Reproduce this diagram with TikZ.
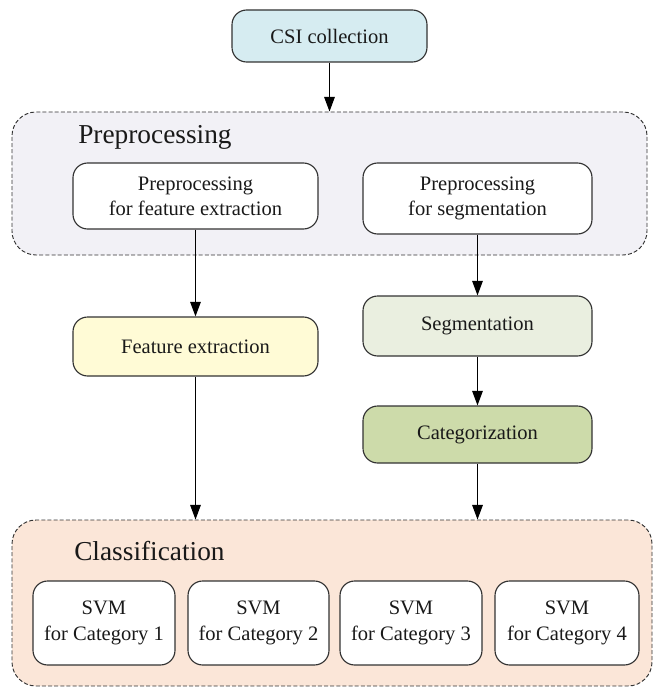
\documentclass[tikz,border=0pt]{standalone}
\usepackage{fontspec}
\setmainfont{Liberation Serif}
\usetikzlibrary{arrows.meta}

\definecolor{csifill}{HTML}{D6ECF1}
\definecolor{prefill}{HTML}{F2F1F6}
\definecolor{featfill}{HTML}{FFFBD6}
\definecolor{segfill}{HTML}{EAEFE0}
\definecolor{catfill}{HTML}{CDDBAA}
\definecolor{clsfill}{HTML}{FBE6D8}
\definecolor{edge}{HTML}{333333}

\tikzset{
  px/.style={x=0.75pt, y=-0.75pt},
  procbox/.style={draw=edge, line width=0.85pt, rounded corners=11pt,
    align=center, inner sep=0pt, text=black!90, font=\fontsize{15.4}{19}\selectfont},
  groupbox/.style={draw=edge, line width=0.7pt, dash pattern=on 3pt off 1.6pt,
    rounded corners=18pt},
  grouptitle/.style={anchor=west, text=black!90, font=\fontsize{20.5}{24}\selectfont, inner sep=0pt},
  flow/.style={draw=black, line width=0.8pt, -{Triangle[length=11pt,width=8pt]}}
}

\newcommand{\boxat}[7]{% name, x1, y1, x2, y2, fill, text
  \node[procbox, fill=#6, minimum width={(#4-#2)*0.75pt}, minimum height={(#5-#3)*0.75pt}]
    (#1) at ({(#2+#4)/2},{(#3+#5)/2}) {#7};}

\begin{document}
\begin{tikzpicture}[px]
  \useasboundingbox (0,0) rectangle (655,688);

  % group panels
  \node[groupbox, fill=prefill, minimum width={635*0.75pt}, minimum height={143*0.75pt}, inner sep=0pt]
    (pre) at (329.5,183.5) {};
  \node[groupbox, fill=clsfill, minimum width={640*0.75pt}, minimum height={166*0.75pt}, inner sep=0pt]
    (cls) at (332,603) {};
  \node[grouptitle] (pretitle) at (78,137) {Preprocessing};
  \node[grouptitle] (clstitle) at (74,551) {Classification};

  % process boxes
  \boxat{csi}{232}{10}{427}{62}{csifill}{CSI collection}
  \boxat{pfe}{73}{163}{318}{229}{white}{Preprocessing\\for feature extraction}
  \boxat{pseg}{363}{163}{592}{234}{white}{Preprocessing\\for segmentation}
  \boxat{feat}{73}{317}{318}{376}{featfill}{Feature extraction}
  \boxat{seg}{363}{296}{592}{356}{segfill}{Segmentation}
  \boxat{cat}{363}{406}{592}{463}{catfill}{Categorization}

  \boxat{svm1}{33}{581}{175}{665}{white}{SVM\\for Category 1}
  \boxat{svm2}{188}{581}{329}{665}{white}{SVM\\for Category 2}
  \boxat{svm3}{340}{581}{482}{665}{white}{SVM\\for Category 3}
  \boxat{svm4}{495}{581}{639}{665}{white}{SVM\\for Category 4}

  % connectors
  \draw[flow] (csi.south) -- (csi.south |- pre.north);
  \draw[flow] (pfe.south) -- (feat.north);
  \draw[flow] (pseg.south) -- (seg.north);
  \draw[flow] (seg.south) -- (cat.north);
  \draw[flow] (feat.south) -- (feat.south |- cls.north);
  \draw[flow] (cat.south) -- (cat.south |- cls.north);
\end{tikzpicture}
\end{document}
